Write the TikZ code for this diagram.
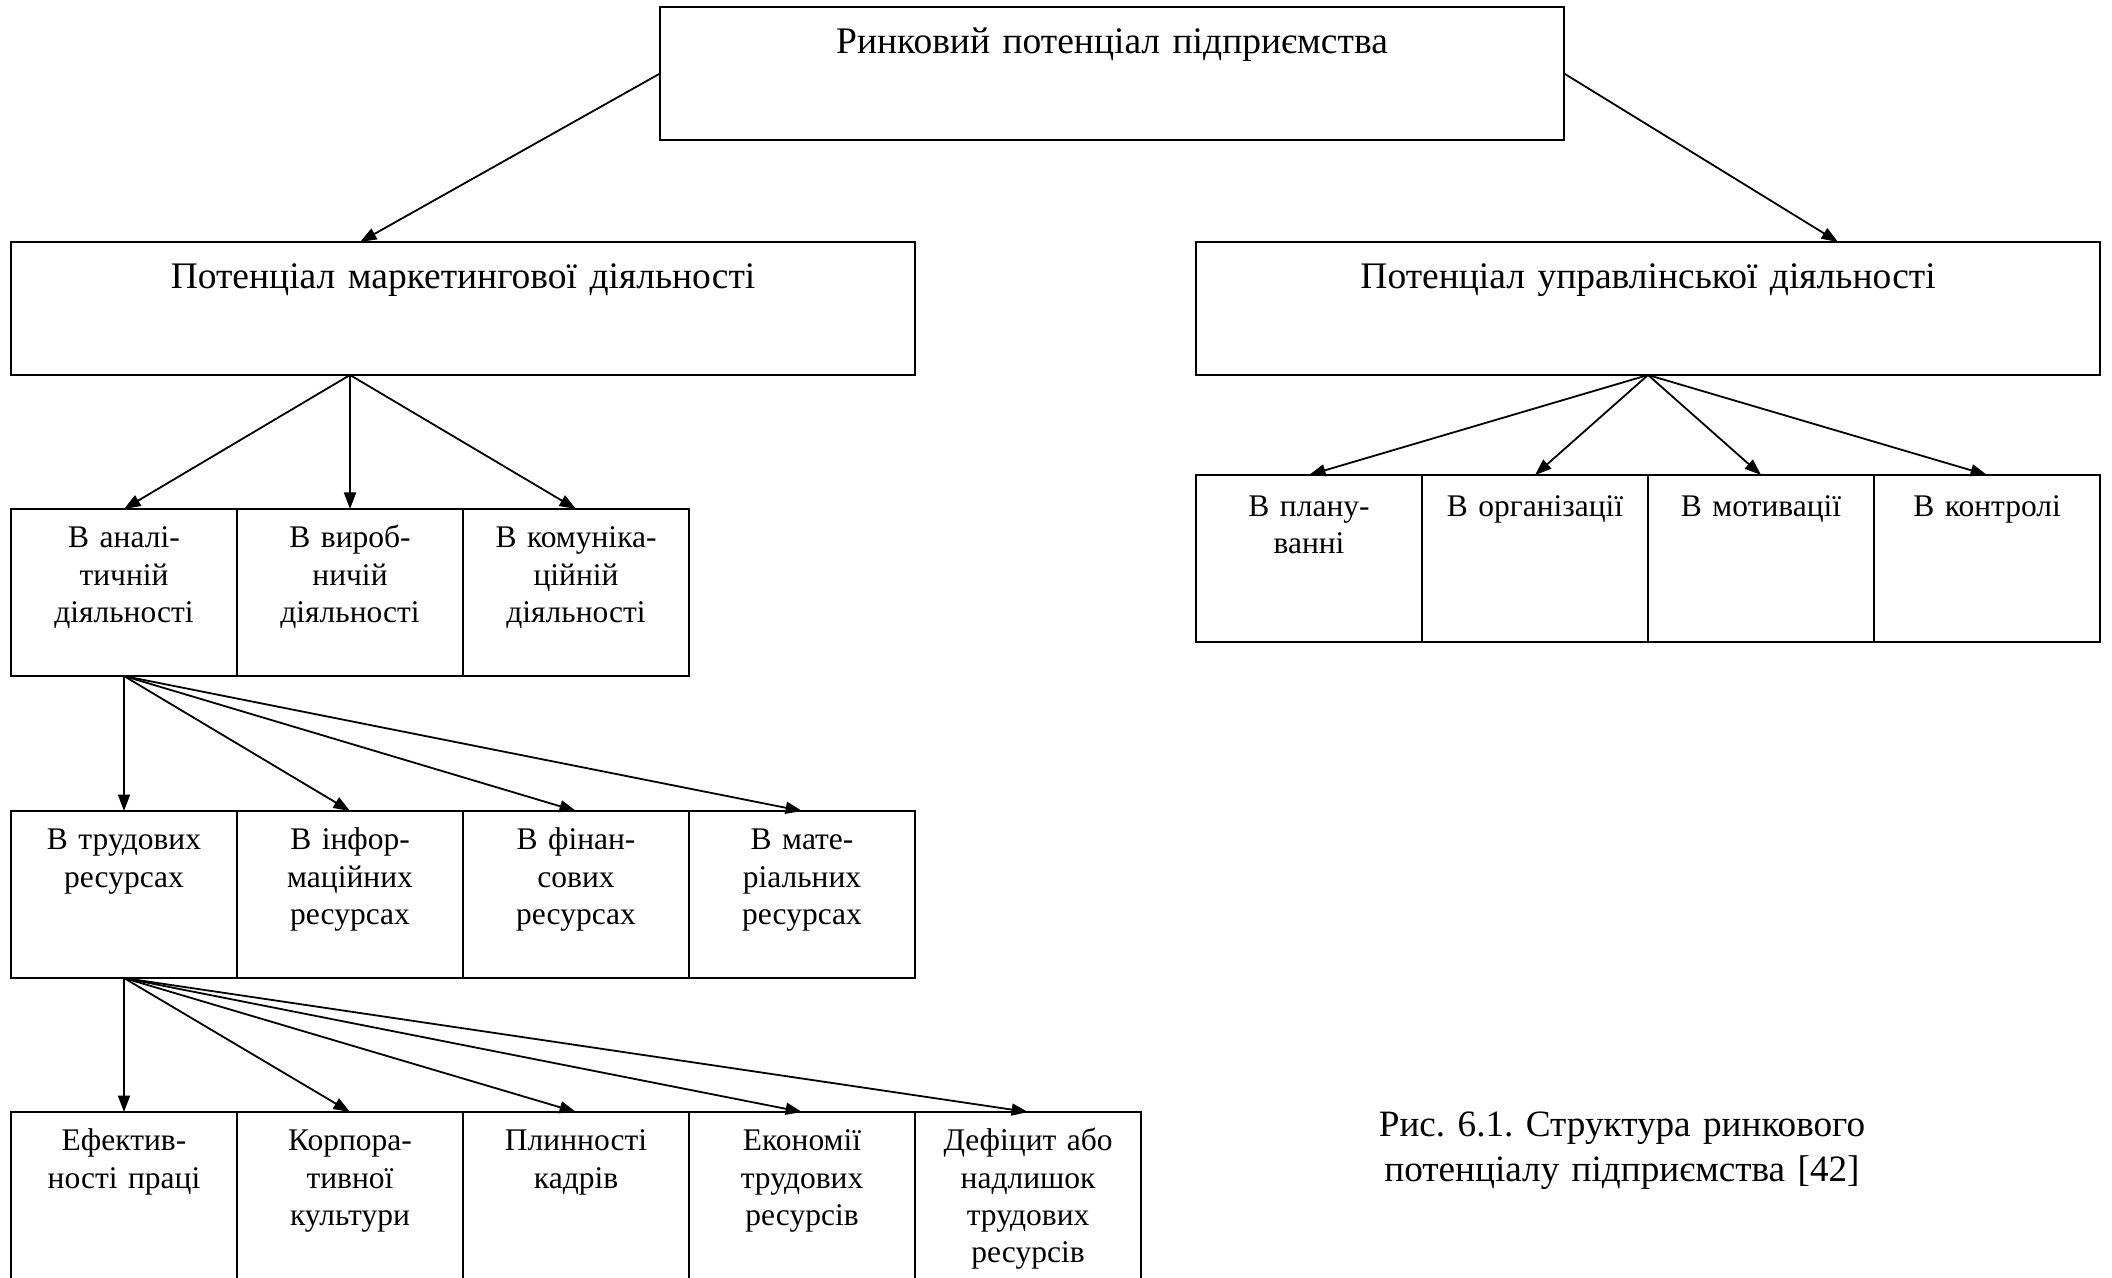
\documentclass[tikz,border=0pt]{standalone}
\usepackage{fontspec}
\setmainfont{Liberation Serif}
\frenchspacing
\usetikzlibrary{arrows.meta, positioning, calc}

\begin{document}
\begin{tikzpicture}[
        x=0.3333pt, y=-0.3333pt,
        font=\fontsize{12.5pt}{14.4pt}\selectfont,
        every node/.style={outer sep=0pt, inner sep=0pt},
        bigbox/.style={rectangle, draw, line width=0.7pt, minimum width=301.33pt, minimum height=44.33pt, text width=298pt, align=center, text height=9pt, text depth=22pt, anchor=north west},
        cell/.style={rectangle, draw, line width=0.6pt, minimum width=75.33pt, minimum height=55.67pt, text width=74pt, align=center, text height=9pt, text depth=38.7pt, anchor=north west, font=\fontsize{10.5pt}{12.4pt}\selectfont},
        mcell/.style={cell, text depth=37.3pt},
        caption/.style={text width=200pt, align=center, anchor=base, font=\fontsize{12.4pt}{15pt}\selectfont},
        arrow/.style={-{Triangle[length=5.5pt, width=4pt]}, line width=0.6pt}
    ]
        \useasboundingbox (0,0) rectangle (2112,1278);
        % top levels
        \node[bigbox] (rp) at (660,7) {Ринковий потенціал підприємства};
        \node[bigbox] (mark) at (11,242) {Потенціал маркетингової діяльності};
        \node[bigbox] (upr) at (1196,242) {Потенціал управлінської діяльності};
        % marketing
        \node[cell] (an) at (11,509) {В аналі-\\тичній\\діяльності};
        \node[cell, right=0pt of an] (vyr) {В вироб-\\ничій\\діяльності};
        \node[cell, right=0pt of vyr] (kom) {В комуніка-\\ційній\\діяльності};
        % management
        \node[mcell] (plan) at (1196,475) {В плану-\\ванні};
        \node[mcell, right=0pt of plan] (org) {В організації};
        \node[mcell, right=0pt of org] (mot) {В мотивації};
        \node[mcell, right=0pt of mot] (kontr) {В контролі};
        % resources
        \node[cell] (trud) at (11,811) {В трудових\\ресурсах};
        \node[cell, right=0pt of trud] (inf) {В інфор-\\маційних\\ресурсах};
        \node[cell, right=0pt of inf] (fin) {В фінан-\\сових\\ресурсах};
        \node[cell, right=0pt of fin] (mat) {В мате-\\ріальних\\ресурсах};
        % labour
        \node[cell] (efek) at (11,1112) {Ефектив-\\ності праці};
        \node[cell, right=0pt of efek] (korp) {Корпора-\\тивної\\культури};
        \node[cell, right=0pt of korp] (plyn) {Плинності\\кадрів};
        \node[cell, right=0pt of plyn] (ekon) {Економії\\трудових\\ресурсів};
        \node[cell, right=0pt of ekon] (def) {Дефіцит або\\надлишок\\трудових\\ресурсів};
        \node[caption] (cap) at (1622,1136) {Рис. 6.1. Структура ринкового\\потенціалу підприємства [42]};
        % arrows
        \draw[arrow] (rp.west) -- ($(mark.north)+(-103,0)$);
        \draw[arrow] (rp.east) -- ($(upr.north)+(190,0)$);
        \draw[arrow] (mark.south -| vyr) -- (an.north);
        \draw[arrow] (mark.south -| vyr) -- (vyr.north);
        \draw[arrow] (mark.south -| vyr) -- (kom.north);
        \draw[arrow] (upr.south) -- (plan.north);
        \draw[arrow] (upr.south) -- (org.north);
        \draw[arrow] (upr.south) -- (mot.north);
        \draw[arrow] (upr.south) -- (kontr.north);
        \draw[arrow] (an.south) -- (trud.north);
        \draw[arrow] (an.south) -- (inf.north);
        \draw[arrow] (an.south) -- (fin.north);
        \draw[arrow] (an.south) -- (mat.north);
        \draw[arrow] (trud.south) -- (efek.north);
        \draw[arrow] (trud.south) -- (korp.north);
        \draw[arrow] (trud.south) -- (plyn.north);
        \draw[arrow] (trud.south) -- (ekon.north);
        \draw[arrow] (trud.south) -- (def.north);
    \end{tikzpicture}
\end{document}
